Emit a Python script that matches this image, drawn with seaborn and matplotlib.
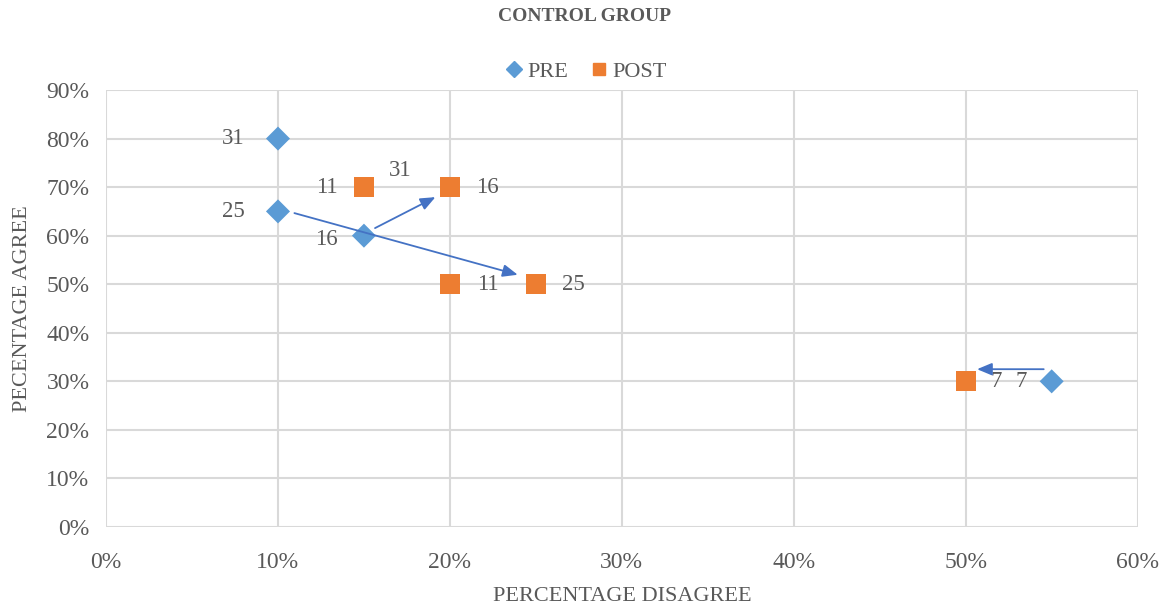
import matplotlib
matplotlib.use("Agg")
import matplotlib.pyplot as plt
import seaborn as sns
import pandas as pd
from matplotlib.ticker import PercentFormatter
from matplotlib.lines import Line2D

# Data
pre_x = [10, 10, 15, 55]
pre_y = [80, 65, 60, 30]
pre_labels = ["31", "25", "16", "7"]
post_x = [15, 20, 20, 25, 50, 20]
post_y = [70, 70, 50, 50, 30, 70]
post_labels = ["11", "16", "11", "25", "7", "31"]
x_ticks = [0, 10, 20, 30, 40, 50, 60]
y_ticks = [0, 10, 20, 30, 40, 50, 60, 70, 80, 90]

sns.set_theme(style="white")
plt.rcParams['font.family'] = ['Liberation Serif', 'DejaVu Serif']

df = pd.DataFrame({
    "x": pre_x + post_x,
    "y": pre_y + post_y,
    "grp": ["PRE"] * len(pre_x) + ["POST"] * len(post_x),
    "lab": pre_labels + post_labels,
})

fig = plt.figure(figsize=(11.68, 6.14), dpi=100)
ax = fig.add_axes([0.0908, 0.1417, 0.8832, 0.7117])

grey = "#595959"
gridc = "#D9D9D9"

sns.scatterplot(data=df, x="x", y="y", hue="grp", style="grp", size="grp",
                palette={"PRE": "#5B9BD5", "POST": "#ED7D31"},
                markers={"PRE": "D", "POST": "s"},
                sizes={"PRE": 150, "POST": 210},
                linewidth=0, ax=ax, zorder=3, legend=False)

ax.set_xlim(0, 60)
ax.set_ylim(0, 90)
ax.set_xticks(x_ticks)
ax.set_yticks(y_ticks)
ax.xaxis.set_major_formatter(PercentFormatter(100, decimals=0))
ax.yaxis.set_major_formatter(PercentFormatter(100, decimals=0))
ax.grid(True, color=gridc, linewidth=1.5)
ax.set_axisbelow(True)
for s in ax.spines.values():
    s.set_visible(False)
ax.tick_params(axis="both", length=0, labelsize=17, colors=grey)
ax.tick_params(axis="x", pad=18)
ax.tick_params(axis="y", pad=12)

ax.set_xlabel("PERCENTAGE DISAGREE", fontsize=16, color=grey, labelpad=10)
ax.set_ylabel("PECENTAGE AGREE", fontsize=16, color=grey, labelpad=10)

# data labels (offsets in points)
pre_off = [(-32, 0), (-32, 0), (-27, -3), (-22, 0)]
post_off = [(-27, 0), (27, 0), (27, 0), (27, 0), (22, 0), (-36, 12)]
for xv, yv, lab, off in zip(pre_x, pre_y, pre_labels, pre_off):
    ax.annotate(lab, (xv, yv), xytext=off, textcoords="offset points",
                ha="center", va="center", fontsize=16.5, color=grey)
for xv, yv, lab, off in zip(post_x, post_y, post_labels, post_off):
    ax.annotate(lab, (xv, yv), xytext=off, textcoords="offset points",
                ha="center", va="center", fontsize=16.5, color=grey)

# arrows
arrow_kw = dict(arrowstyle="-|>,head_length=0.6,head_width=0.25",
                color="#4472C4", lw=1.3, mutation_scale=15)
ax.annotate("", xy=(24.1, 51.8), xytext=(10.8, 64.8), arrowprops=arrow_kw)
ax.annotate("", xy=(19.3, 68.2), xytext=(15.5, 61.3), arrowprops=arrow_kw)
ax.annotate("", xy=(50.5, 32.5), xytext=(54.7, 32.5), arrowprops=arrow_kw)

# legend
handles = [Line2D([], [], marker="D", color="#5B9BD5", linestyle="", markersize=8),
           Line2D([], [], marker="s", color="#ED7D31", linestyle="", markersize=9)]
fig.legend(handles, ["PRE", "POST"], loc="center", bbox_to_anchor=(0.5, 0.883),
           ncol=2, frameon=False, fontsize=16, handletextpad=0.0,
           columnspacing=0.8, labelcolor=grey, handlelength=1.2)

fig.text(0.5, 0.973, "CONTROL GROUP", ha="center", va="center",
         fontsize=14, fontweight="bold", color=grey)

fig.savefig("out.png", dpi=100)
